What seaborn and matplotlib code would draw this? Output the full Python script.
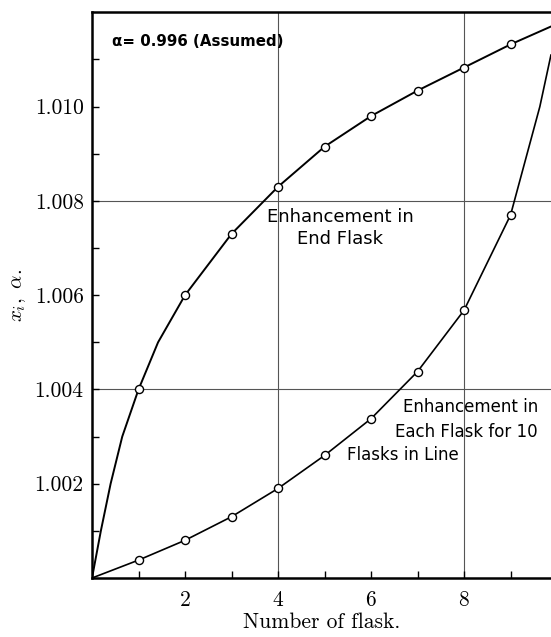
import matplotlib
matplotlib.use("Agg")
import matplotlib.pyplot as plt
import seaborn as sns
import pandas as pd

# values
flask = [1, 2, 3, 4, 5, 6, 7, 8, 9]
end_flask = [1.0040, 1.0060, 1.0073, 1.0083, 1.00915, 1.0098, 1.01034, 1.01083, 1.01132]
each_flask = [1.00038, 1.0008, 1.0013, 1.0019, 1.0026, 1.00338, 1.00438, 1.00568, 1.0077]

# drawn curves (incl. start point and right edge)
end_curve_x = [0, 0.19, 0.40, 0.65] + flask[:1] + [1.42] + flask[1:] + [9.87]
end_curve_y = [1.000, 1.001, 1.002, 1.003] + end_flask[:1] + [1.005] + end_flask[1:] + [1.0117]
each_curve_x = [0] + flask + [9.63, 9.87]
each_curve_y = [1.000] + each_flask + [1.0100, 1.0111]

xticks = [2, 4, 6, 8]
yticks = [1.002, 1.004, 1.006, 1.008, 1.010]
ytick_labels = ["1.002", "1.004", "1.006", "1.008", "1.010"]

sns.set_style("ticks", {"axes.edgecolor": "black", "text.color": "black",
                        "xtick.color": "black", "ytick.color": "black",
                        "axes.labelcolor": "black"})
plt.rcParams["font.family"] = ["cmr10", "DejaVu Serif"]
plt.rcParams["mathtext.fontset"] = "cm"
plt.rcParams["axes.formatter.use_mathtext"] = True

fig = plt.figure(figsize=(5.51, 6.37), dpi=100)
ax = fig.add_axes([0.167, 0.0926, 0.833, 0.888])

ax.axvline(4, color="#555555", lw=0.8, zorder=0)
ax.axvline(8, color="#555555", lw=0.8, zorder=0)
ax.axhline(1.004, color="#555555", lw=0.8, zorder=0)
ax.axhline(1.008, color="#555555", lw=0.8, zorder=0)

sns.lineplot(x=end_curve_x, y=end_curve_y, ax=ax, color="black", lw=1.4,
             sort=False, estimator=None)
sns.lineplot(x=each_curve_x, y=each_curve_y, ax=ax, color="black", lw=1.2,
             sort=False, estimator=None)

pts = pd.DataFrame({"x": flask + flask, "y": end_flask + each_flask})
sns.scatterplot(data=pts, x="x", y="y", ax=ax, marker="o", s=34,
                facecolor="white", edgecolor="black", linewidth=1.0, zorder=5)

ax.set_xlim(0, 9.87)
ax.set_ylim(1.000, 1.012)
ax.set_xticks(xticks)
ax.set_xticks([1, 3, 5, 7, 9], minor=True)
ax.set_yticks(yticks)
ax.set_yticklabels(ytick_labels)
ax.set_yticks([1.001, 1.003, 1.005, 1.007, 1.009, 1.011], minor=True)
ax.tick_params(which="both", direction="in", length=5, width=1, labelsize=15.5,
               colors="black")
ax.tick_params(axis="x", pad=9)
ax.tick_params(axis="y", pad=6)

for side in ["left", "top", "bottom"]:
    ax.spines[side].set_linewidth(1.8)
    ax.spines[side].set_color("black")
ax.spines["right"].set_visible(False)

ax.set_xlabel("Number of flask.", fontsize=15.5, labelpad=2, color="black")
ax.set_ylabel(r"$x_i,\ \alpha.$", fontsize=15, labelpad=5, color="black")

sans = ["DejaVu Sans"]
ax.text(0.43, 1.01138, "α= 0.996 (Assumed)", family=sans, fontsize=10.8,
        weight="bold", va="center", ha="left", color="black")
ax.text(5.33, 1.00742, "Enhancement in\nEnd Flask", family=sans, fontsize=13,
        va="center", ha="center", multialignment="center", linespacing=1.25,
        color="black")
ax.text(9.59, 1.00362, "Enhancement in", family=sans, fontsize=12,
        va="center", ha="right", color="black")
ax.text(9.59, 1.00309, "Each Flask for 10", family=sans, fontsize=12,
        va="center", ha="right", color="black")
ax.text(5.48, 1.0026, "Flasks in Line", family=sans, fontsize=12,
        va="center", ha="left", color="black")

fig.savefig("out.png", dpi=100)
